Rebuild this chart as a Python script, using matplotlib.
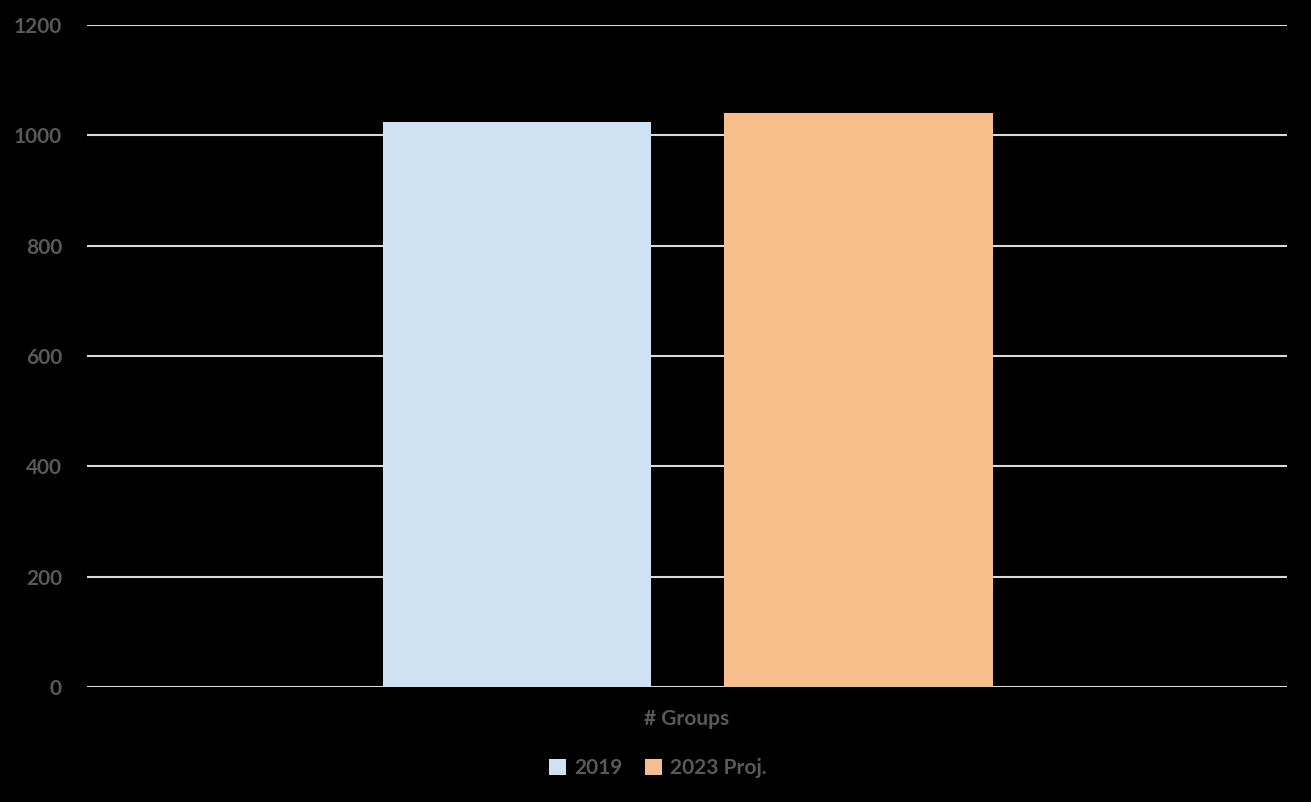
import matplotlib.pyplot as plt
from matplotlib.patches import Patch

categories = ["# Groups"]
series_names = ["2019", "2023 Proj."]
values_2019 = [1025]
values_2023 = [1040]
yticks = [0, 200, 400, 600, 800, 1000, 1200]

colors = ["#CFE2F3", "#F6BE8A"]
text_color = "#595959"
font = "Lato"

fig = plt.figure(figsize=(13.11, 8.02), dpi=100, facecolor="black")
ax = fig.add_axes([87/1311, 1-687/802, 1200/1311, 662/802], facecolor="black")

width = 0.2235
offsets = [-0.1417, 0.1429]
for vals, off, c, name in zip([values_2019, values_2023], offsets, colors, series_names):
    ax.bar([i + off for i in range(len(categories))], vals, width=width, color=c, label=name, zorder=3)

ax.set_xlim(-0.5, 0.5)
ax.set_ylim(0, 1200)
ax.set_yticks(yticks)
ax.set_yticklabels([str(t) for t in yticks], fontfamily=font, fontweight="bold", fontsize=15, color=text_color)
ax.set_xticks(range(len(categories)))
ax.set_xticklabels(categories, fontfamily=font, fontweight="bold", fontsize=15, color=text_color)
ax.tick_params(axis="y", length=0, pad=18)
ax.tick_params(axis="x", length=0, pad=16)
ax.grid(axis="y", color="#D9D9D9", linewidth=1.5, zorder=0)
for s in ax.spines.values():
    s.set_visible(False)

handles = [Patch(facecolor=c, label=n) for c, n in zip(colors, series_names)]
leg = fig.legend(handles=handles, loc="center", bbox_to_anchor=(658/1311, 1-768/802), ncol=2,
                 frameon=False, handlelength=0.8, handleheight=0.8, handletextpad=0.4, columnspacing=1.1,
                 prop={"family": font, "weight": "bold", "size": 15})
for t in leg.get_texts():
    t.set_color(text_color)

fig.savefig("out.png", dpi=100, facecolor="black")
